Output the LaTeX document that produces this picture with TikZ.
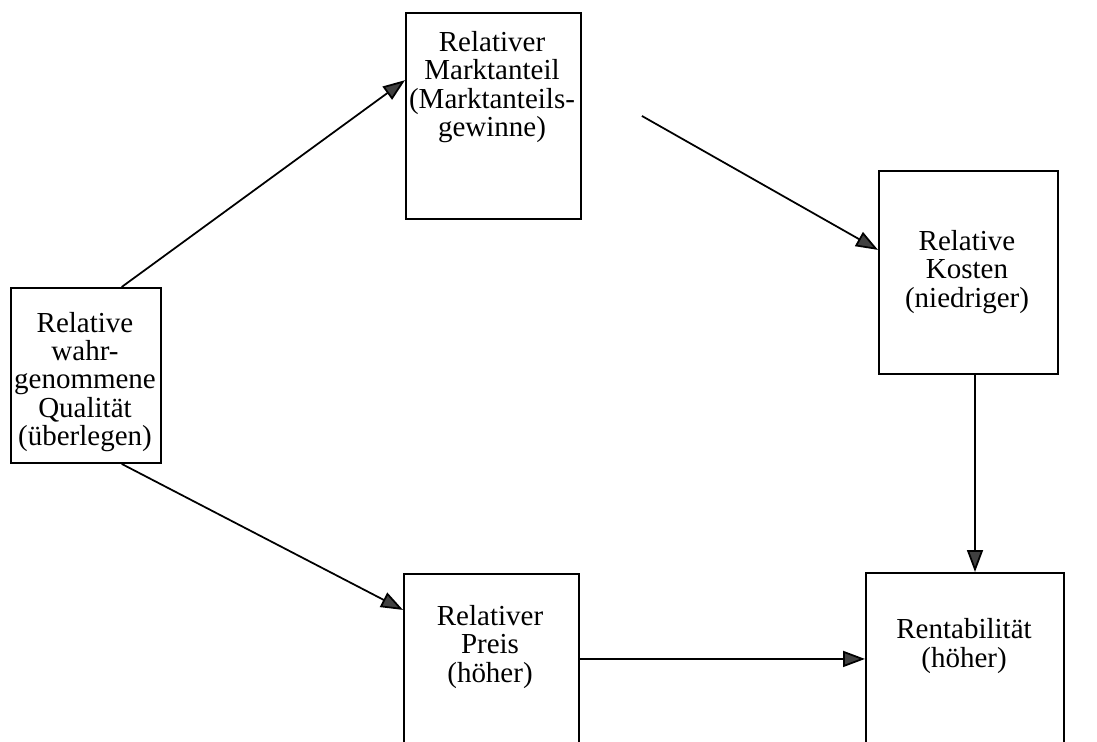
\documentclass[tikz,border=0pt]{standalone}
\usepackage{fontspec}
\setmainfont{Liberation Serif}
\usetikzlibrary{positioning, arrows.meta}

\tikzset{
  box/.style={draw, line width=1.1pt, rectangle, anchor=north west, inner sep=0pt},
  txt/.style={align=center, inner sep=0pt, font=\fontsize{16.5pt}{16.2pt}\selectfont},
  pfeil/.style={line width=1pt, -{Triangle[length=0.44cm, width=0.32cm, fill=black!75]}}
}

\begin{document}
\begin{tikzpicture}[x=0.02cm, y=-0.02cm]

        \useasboundingbox (0,0) rectangle (1097,742);
        \clip (0,0) rectangle (1097,742);

        % Kaesten
        \node [box, minimum width=3cm, minimum height=3.5cm] (A) at (10,287) {};
        \node [box, minimum width=3.5cm, minimum height=4.12cm] (B) at (405,12) {};
        \node [box, minimum width=3.58cm, minimum height=4.06cm] (C) at (878,170) {};
        \node [box, minimum width=3.5cm, minimum height=3.4cm] (D) at (403,573) {};
        \node [box, minimum width=3.96cm, minimum height=3.44cm] (E) at (865,572) {};

        % Texte
        \node [txt] (Atext) at (85,382) {Relative\\wahr-\\genommene\\Qualität\\(überlegen)};
        \node [txt] (Btext) at (492,87) {Relativer\\Marktanteil\\(Marktanteils-\\gewinne)};
        \node [txt] (Ctext) at (967,272) {Relative\\Kosten\\(niedriger)};
        \node [txt] (Dtext) at (490,647) {Relativer\\Preis\\(höher)};
        \node [txt] (Etext) at (964,646) {Rentabilität\\(höher)};

        % Pfeile
        \draw [pfeil] (A.68) -- (B.158);
        \draw [pfeil] (A.-68) -- (D.151);
        \draw [pfeil] ([xshift=1.2cm]B.east) -- (C.166);
        \draw [pfeil] (C.south -| 975,0) -- (E.north -| 975,0);
        \draw [pfeil] (D.east) -- (E.west);

    \end{tikzpicture}
\end{document}
